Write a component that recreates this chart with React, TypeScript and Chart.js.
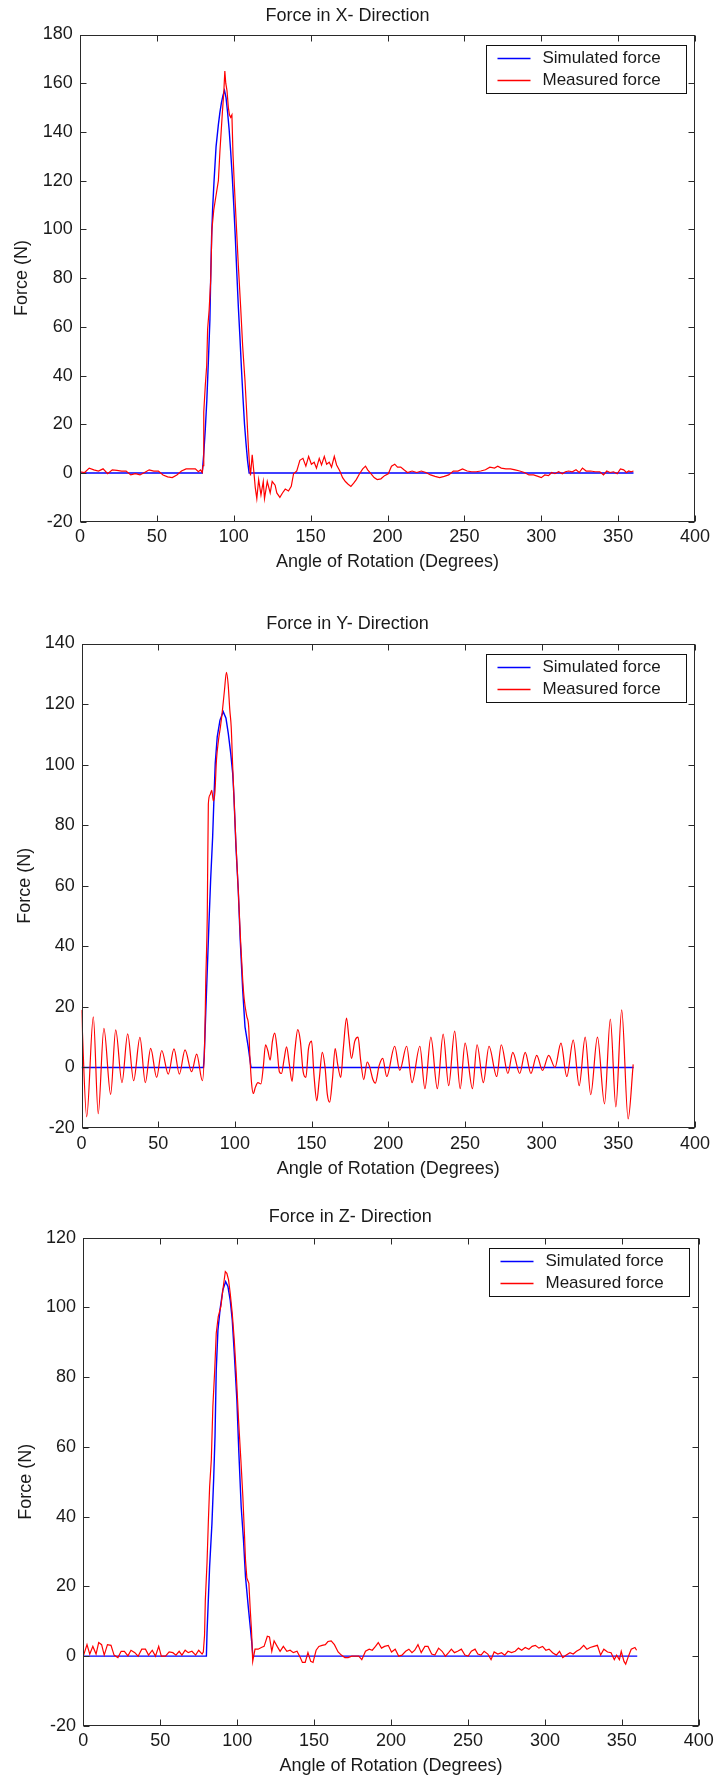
import React, { useEffect, useRef } from 'react';
import { Chart, registerables } from 'chart.js';

Chart.register(...registerables);

const FONT = "'Liberation Sans', Arial, Helvetica, sans-serif";
const TEXT = '#1a1a1a';
const FRAME = '#2a2a2a';
const PAGE_W = 718;

// ---------- data (angle in degrees, force in N) ----------
const legendLabels = ['Simulated force', 'Measured force'];
const xAxisTitle = 'Angle of Rotation (Degrees)';
const yAxisTitle = 'Force (N)';

const simulatedX: [number, number][] = [
  [0, 0], [79.5, 0], [80.5, 8], [81.5, 18], [82.5, 30], [83.5, 46], [84.5, 63], [85, 80], [85.6, 97],
  [86.3, 109], [87.2, 120], [88.5, 134], [90, 143], [91, 148], [92, 152], [93, 155], [94, 157], [95, 154],
  [96, 148], [97, 141], [98, 132], [99, 122], [100, 110], [101, 97], [102, 82], [103, 68], [104, 56],
  [105, 43], [106, 31], [107, 20], [108, 12], [109, 5], [110, 0], [360, 0],
];

const measuredX: [number, number][] = [
  [0, 0.5], [3, 0.2], [6, 2], [9, 1.3], [12, 0.8], [15, 1.7], [18, -0.3], [21, 1.3], [24, 1.1], [27, 0.8],
  [30, 0.8], [33, -0.8], [36, -0.3], [39, -0.8], [42, 0.2], [45, 1.3], [48, 0.8], [51, 0.8], [54, -0.8],
  [57, -1.6], [60, -1.9], [63, -0.8], [66, 0.8], [69, 1.7], [72, 1.7], [75, 1.7], [77, 0.5], [78.4, 1.3],
  [79.5, 0.2], [80, 3], [80.5, 25], [81.5, 36], [82.4, 44], [83, 59], [84, 67], [85, 79], [85.8, 100],
  [87, 108], [88.5, 114], [90, 120], [91, 132], [91.8, 140], [92.6, 148], [93.5, 156], [94.2, 165],
  [94.8, 160], [95.6, 157], [96.5, 150], [97.2, 147], [98, 146], [98.8, 147], [99.5, 131], [100.4, 118],
  [101.5, 104], [103, 85], [104.5, 68], [105.8, 52], [107.3, 38], [108.4, 25], [109.5, 11], [110.3, 3],
  [110.9, -1], [112, 7.5], [113, 1], [114, -6], [115, -10.5], [116.2, -2.7], [117.7, -9], [119.2, -3.5],
  [120, -10.5], [121.8, -3.5], [123.7, -8.2], [125, -3.5], [126.9, -5], [128, -8.2], [130, -10],
  [131.7, -8.2], [133.5, -6.6], [135.6, -7.4], [137.4, -5.5], [138.9, -0.3], [141, 0.8], [143, 5.2],
  [145, 6], [146.9, 2.8], [148.7, 6.8], [150.5, 3.6], [152.3, 4.4], [153.8, 2], [155.6, 6], [157.1, 3.3],
  [158.9, 6.8], [160.4, 3.6], [162.1, 4.4], [163.6, 2.4], [165.4, 6.8], [166.9, 3.3], [169, 0.8],
  [170.8, -1.9], [172.6, -3.5], [174.4, -4.6], [176.2, -5.5], [178, -4.2], [179.7, -2.7], [181.8, -0.3],
  [183.9, 1.7], [185.7, 2.8], [187.1, 1.3], [189.2, -0.3], [191.3, -1.9], [193.3, -2.7], [195.7, -2.4],
  [198.1, -1.1], [200.5, -0.3], [202.6, 2.8], [204.7, 3.6], [206.5, 2.4], [208.6, 2.4], [210.7, 1.3],
  [213, 0.2], [216, 0.8], [219, 0.2], [222, 0.8], [225, 0.2], [228, -0.8], [230.9, -1.4], [233.9, -1.9],
  [236.9, -1.4], [239.8, -0.8], [242.8, 0.8], [245.8, 0.8], [248.8, 1.7], [251.8, 0.8], [254.7, 0.5],
  [257.7, 0.5], [260.7, 0.8], [263.7, 1.3], [266.6, 2.4], [269.6, 2], [271.7, 2.8], [274, 2], [277, 1.7],
  [280, 1.7], [283, 1.3], [286, 0.8], [289, 0.2], [292, -0.8], [295, -0.8], [297.9, -1.4], [300, -1.9],
  [302.3, -0.8], [304.7, -1.1], [306.8, 0.2], [308.9, -0.3], [311.3, 0.5], [313.7, -0.3], [315.7, 0.5],
  [317.8, 0.8], [320.2, 0.5], [322.6, 1.3], [324.7, 0.2], [326.8, 2], [329.2, 0.8], [332.1, 0.8],
  [335.1, 0.5], [338.1, 0.5], [340.5, -0.8], [342.6, 0.8], [344.7, 0.2], [347, 0.5], [349.4, -0.3],
  [351.5, 1.7], [353.6, 1.3], [355.4, 0.2], [356.9, 0.8], [358.4, 0.5], [360, 0.8],
];

const simulatedY: [number, number][] = [
  [0, 0], [79.5, 0], [80, 3.5], [81, 17.9], [82, 32], [83.1, 47.6], [84.2, 62], [85.5, 76], [86.4, 89.4],
  [87.2, 100.4], [88.5, 109.2], [90.3, 114.7], [92.4, 117.5], [94.2, 115.3], [95.7, 110.3], [97.3, 103.7],
  [98.6, 97], [99.4, 89.4], [100.7, 72.9], [102.2, 58.6], [103.5, 42], [105.1, 25.6], [106.6, 13.4],
  [108.7, 6.8], [110.3, 0.8], [110.6, 0], [360, 0],
];

const measuredY: [number, number][] = [
  [0, 19], [3.4, -16.3], [7.7, 16.7], [10.9, -15.3], [14.6, 12.9], [19, -8.9], [22.3, 12.4], [26.4, -5],
  [30.1, 11.1], [34, -4.4], [38.1, 9.9], [41.6, -5], [45.1, 6.3], [49, -3.3], [52.3, 5.6], [56.6, -2.2],
  [60.3, 6.1], [63.8, -2.2], [67.5, 5.8], [71.8, -1.4], [75.1, 4.4], [78.8, -4.4], [80.4, 10], [81, 28],
  [82, 50], [82.7, 87], [83.8, 90], [84.9, 91.5], [86, 88], [87, 91], [88, 101.5], [89.3, 108],
  [90.6, 112.5], [91.9, 118], [93.2, 124.5], [94.5, 130.5], [95.6, 126.6], [96.7, 118], [97.6, 112.5],
  [98.5, 100.4], [99.4, 89.4], [100.7, 74], [102.2, 58.6], [103.7, 42], [105.1, 29], [106.1, 22.5],
  [107.7, 17], [109, 13.4], [109.8, 3.5], [110.9, -5.3], [112, -8.6], [113.4, -6.5], [115, -5],
  [117, -5.4], [118.5, 0], [120, 7.5], [121.5, 5.5], [123, 2.4], [124.5, 8.7], [126, 11.3], [127.5, 6.2],
  [129, -1.4], [130.4, -2], [132, 2.4], [133.7, 6.8], [135.5, 1.1], [137.3, -4.6], [139, 5], [141, 12.5],
  [142.7, 8.7], [144.5, -1.4], [146.3, -3.3], [148, 6.2], [150, 8.7], [151.6, -2.7], [153.4, -11],
  [155, -4], [157, 5], [158.8, 0], [160.3, -9], [161.8, -11.5], [163.6, -4], [165.4, 6.2], [167, 1.1],
  [169, -3.3], [170.7, 6.2], [172.8, 16.3], [174.3, 10], [176, 3], [178.2, 8.7], [180.3, 10], [182, 2.4],
  [184, -4], [186.3, 1.8], [188, 0], [190, -4], [191.6, -5.2], [194, 0.5], [196.4, 3], [199, -3],
  [204.2, 7], [207.5, -1], [212, 7], [215.5, -5], [220.6, 7], [223.9, -7], [227.8, 10], [232, -7],
  [235.8, 11], [239.4, -6], [243.3, 12], [246.9, -7], [250.1, 8], [254.9, -7], [257.9, 7.5], [262, -5],
  [265.7, 7], [270.7, -3], [273.7, 7.5], [278, -2], [281.2, 5], [285.7, -2], [289.3, 5], [293, -2],
  [296.8, 4], [300.6, -1], [304.6, 4], [308.7, 0], [312.6, 8], [316.4, -3], [320.6, 9], [324.5, -6],
  [328.4, 10], [332, -9], [336.4, 10], [341, -12], [344.8, 16], [348.4, -13], [352.2, 19], [356.4, -17],
  [359.7, 1],
];

const simulatedZ: [number, number][] = [
  [0, 0], [80, 0], [80.4, 6.6], [82.1, 25.7], [83.6, 38], [84.7, 50.5], [85.6, 63], [86.4, 82],
  [87.5, 93.5], [89, 99.8], [90.7, 105], [92.5, 107.4], [94, 106], [95.5, 102], [96.8, 96.4], [98.1, 87],
  [99.8, 73.5], [101.1, 58.3], [102.6, 42.9], [104.1, 33.3], [105.4, 22.8], [107.2, 14.2], [108.7, 7.5],
  [109.5, 3.9], [110.2, 0], [360, 0],
];

const measuredZ: [number, number][] = [
  [0, 0], [2.4, 3.3], [4.2, 0.6], [6.2, 2.8], [8.3, 0.6], [10, 3.9], [11.9, 3.3], [13.6, 0.3], [15.7, 3.3],
  [18, 3.1], [20, 0.3], [22.5, -0.4], [24.6, 1.4], [26.7, 1.4], [29, 0.1], [31, 1.7], [33.5, 1], [35.6, 0],
  [38, 2], [40.4, 2], [42.4, 0.3], [44.8, 1.7], [46.9, 0], [49, 2.8], [50.7, 0], [53.4, 0], [55.8, 1.2],
  [58.2, 1], [60.2, 0.3], [62.3, 1.4], [64.1, 0.3], [66.2, 1.7], [68.2, 1], [70.6, 1.4], [73, 0.3],
  [75, 1.7], [77.2, 0.6], [78, 1.2], [78.8, 6], [79.3, 16], [80.4, 26.7], [81.3, 39], [82.1, 48.6],
  [83.2, 56.3], [84.2, 71.5], [85.4, 82], [86.4, 92.6], [87.7, 97.4], [89.4, 100.2], [90.7, 105],
  [92.3, 110.3], [93.3, 109.8], [94.4, 107.9], [95.5, 104], [96.8, 98.3], [98.1, 90.7], [99.4, 81.1],
  [100.9, 67.7], [102.4, 56.3], [103.7, 45.7], [104.8, 34.3], [105.4, 27.6], [106.3, 22.4], [107.6, 20.9],
  [108.5, 13.3], [109.3, 7.5], [110.1, -1.5], [111.6, 2], [113.6, 2], [115.7, 2.5], [117.5, 2.8],
  [119.6, 5.7], [121, 5.5], [122.5, 1.4], [124, 4.4], [126, 2.8], [127.9, 1.4], [130, 2.8], [132.3, 1.4],
  [134.4, 1.7], [136.5, 1], [138.9, 1.4], [141, -0.4], [142.4, -1.8], [144.2, -1.8], [146, 1],
  [147.8, -1.5], [149.3, -1.8], [151.3, 1.7], [153.1, 2.8], [155.2, 3.1], [157.3, 3.3], [159, 4.2],
  [161.1, 4.4], [163.2, 3.3], [165.6, 1.2], [167.7, 0.3], [170, -0.4], [172.1, -0.4], [174.5, 0],
  [176.9, 0], [179, 0], [181, -1], [183.4, 1.4], [185.8, 2], [187.8, 1.7], [189.9, 2.8], [191.7, 3.9],
  [193.8, 2.3], [195.8, 2.8], [198.2, 3.1], [200.3, 1.2], [202.7, 2], [205, 0], [207.1, 0.3], [209.5, 1.4],
  [211.6, 2], [213.6, 1], [215.4, 1.7], [217.5, 3.3], [219.6, 1], [222, 2.8], [224, 2.8], [226.4, 0.6],
  [228.5, 0.3], [230.9, 2.3], [233.2, 1.4], [235.3, 0], [237.4, 1], [239.2, 2], [241.2, 1], [243.3, 1.4],
  [245.7, 2], [248, 0.3], [250.1, 0], [252.2, 1.4], [254.6, 2], [256.4, 0.6], [258.5, 0.3], [260.5, 1.4],
  [262.9, 0.6], [265, -1], [267, 1.2], [269.4, 0.6], [271.8, 1], [273.9, 0.3], [276, 1.4], [278.3, 1],
  [280.7, 1.4], [282.8, 2.3], [284.9, 1.7], [287.2, 2.5], [289.6, 2], [291.7, 2.8], [293.8, 3.1],
  [296.1, 2.3], [298.5, 2.8], [300.6, 1.7], [302.7, 2], [305, 1], [307.4, 0.3], [309.5, 1.4],
  [311.6, -0.4], [313.9, 0.3], [316.3, 1], [318.4, 0.6], [320.5, 1.4], [322.8, 2], [325.2, 3.1],
  [327.3, 2], [329.4, 2.5], [331.8, 2.8], [334.1, 3.1], [336.2, 0.3], [338.3, 2], [340.7, 1.2], [343, 1],
  [345.1, -1], [346.6, 0.3], [348.4, -1], [349.6, 1.4], [351.4, -1.5], [352.5, -2.3], [354.3, 0],
  [356.1, 2], [358.5, 2.5], [359.6, 1.7],
];

// ---------- layout (not data) ----------
type Panel = {
  title: string;
  yMin: number;
  yMax: number;
  simulated: [number, number][];
  measured: [number, number][];
  smooth: boolean;
  top: number;
  height: number;
  area: { left: number; top: number; right: number; bottom: number };
  titleY: number;
  yTitleX: number;
  xTitleY: number;
  xTickOff: number;
  yTickGap: number;
};

const panels: Panel[] = [
  {
    title: 'Force in X- Direction', yMin: -20, yMax: 180, simulated: simulatedX, measured: measuredX, smooth: false,
    top: 0, height: 585, area: { left: 80, top: 34.5, right: 695, bottom: 521.7 },
    titleY: 16, yTitleX: 22, xTitleY: 562.5, xTickOff: 15.8, yTickGap: 7.3,
  },
  {
    title: 'Force in Y- Direction', yMin: -20, yMax: 140, simulated: simulatedY, measured: measuredY, smooth: true,
    top: 590, height: 590, area: { left: 81.5, top: 53.5, right: 695, bottom: 538 },
    titleY: 33.8, yTitleX: 25, xTitleY: 579, xTickOff: 16, yTickGap: 6.7,
  },
  {
    title: 'Force in Z- Direction', yMin: -20, yMax: 120, simulated: simulatedZ, measured: measuredZ, smooth: false,
    top: 1190, height: 588, area: { left: 83.3, top: 47.7, right: 700.5, bottom: 535.9 },
    titleY: 27.4, yTitleX: 26, xTitleY: 575.7, xTickOff: 15, yTickGap: 7.3,
  },
];

const FS = 18;
const LH = FS * 1.2;

const matlabFrame = {
  id: 'matlabFrame',
  afterDatasetsDraw(chart: any) {
    const { ctx, chartArea: a, scales } = chart;
    const L = Math.round(a.left) + 0.5;
    const R = Math.round(a.right) - 0.5;
    const T = Math.round(a.top) + 0.5;
    const B = Math.round(a.bottom) - 0.5;
    const TL = 6;
    ctx.save();
    ctx.strokeStyle = FRAME;
    ctx.lineWidth = 1;
    ctx.strokeRect(L, T, R - L, B - T);
    ctx.beginPath();
    for (const t of scales.x.ticks) {
      const px = Math.round(scales.x.getPixelForValue(t.value)) + 0.5;
      ctx.moveTo(px, B); ctx.lineTo(px, B - TL);
      ctx.moveTo(px, T); ctx.lineTo(px, T + TL);
    }
    for (const t of scales.y.ticks) {
      const py = Math.round(scales.y.getPixelForValue(t.value)) + 0.5;
      ctx.moveTo(L, py); ctx.lineTo(L + TL, py);
      ctx.moveTo(R, py); ctx.lineTo(R - TL, py);
    }
    ctx.stroke();

    // legend box (inside axes, upper right, MATLAB style)
    const boxW = 200;
    const boxH = 48;
    const bx = Math.round(a.right - 9.5 - boxW) + 0.5;
    const by = Math.round(a.top + 10.5) + 0.5;
    ctx.fillStyle = '#ffffff';
    ctx.fillRect(bx, by, boxW, boxH);
    ctx.strokeStyle = '#111111';
    ctx.strokeRect(bx, by, boxW, boxH);
    ctx.font = `17px ${FONT}`;
    ctx.textBaseline = 'middle';
    ctx.textAlign = 'left';
    const rows = [12.6, 34.5];
    chart.data.datasets.forEach((ds: any, i: number) => {
      const y = by + rows[i];
      ctx.strokeStyle = ds.borderColor;
      ctx.lineWidth = 1.4;
      ctx.beginPath();
      ctx.moveTo(bx + 11, Math.round(y) + 0.5);
      ctx.lineTo(bx + 44, Math.round(y) + 0.5);
      ctx.stroke();
      ctx.fillStyle = TEXT;
      ctx.fillText(ds.label, bx + 56, y);
    });
    ctx.restore();
  },
};

function ForceChart({ panel }: { panel: Panel }) {
  const ref = useRef<HTMLCanvasElement>(null);
  useEffect(() => {
    const p = panel;
    const font = { family: FONT, size: FS, weight: 'normal' as const };
    const chart = new Chart(ref.current as HTMLCanvasElement, {
      type: 'line',
      data: {
        datasets: [
          {
            label: legendLabels[0],
            data: p.simulated.map(([x, y]) => ({ x, y })),
            borderColor: '#0000ff',
            backgroundColor: '#0000ff',
            borderWidth: 1.4,
            pointRadius: 0,
            tension: 0,
            order: 1,
          },
          {
            label: legendLabels[1],
            data: p.measured.map(([x, y]) => ({ x, y })),
            borderColor: '#ff0000',
            backgroundColor: '#ff0000',
            borderWidth: 1.2,
            pointRadius: 0,
            tension: p.smooth ? 0.4 : 0,
            cubicInterpolationMode: p.smooth ? 'monotone' : 'default',
            order: 0,
          },
        ],
      } as any,
      options: {
        animation: false,
        responsive: false,
        maintainAspectRatio: false,
        devicePixelRatio: 1,
        events: [],
        layout: { padding: { left: 0, top: 0, right: PAGE_W - p.area.right, bottom: 0 } },
        plugins: {
          legend: { display: false },
          tooltip: { enabled: false },
          title: {
            display: true,
            text: p.title,
            color: TEXT,
            font,
            padding: { top: p.titleY - LH / 2, bottom: p.area.top - p.titleY - LH / 2 },
          },
        },
        scales: {
          x: {
            type: 'linear',
            min: 0,
            max: 400,
            grid: { display: false, drawTicks: false },
            border: { display: false },
            ticks: {
              stepSize: 50,
              color: TEXT,
              font,
              padding: p.xTickOff - LH / 2,
              maxRotation: 0,
              autoSkip: false,
            },
            title: {
              display: true,
              text: xAxisTitle,
              color: TEXT,
              font,
              padding: { top: 0, bottom: p.height - p.xTitleY - LH / 2 },
            },
            afterFit: (s: any) => {
              s.height = p.height - p.area.bottom;
            },
          },
          y: {
            type: 'linear',
            min: p.yMin,
            max: p.yMax,
            grid: { display: false, drawTicks: false },
            border: { display: false },
            ticks: { stepSize: 20, color: TEXT, font, padding: p.yTickGap },
            title: {
              display: true,
              text: yAxisTitle,
              color: TEXT,
              font,
              padding: { top: p.yTitleX - LH / 2, bottom: 0 },
            },
            afterFit: (s: any) => {
              s.width = p.area.left;
            },
          },
        },
      } as any,
      plugins: [matlabFrame],
    });
    return () => chart.destroy();
  }, [panel]);
  return (
    <canvas
      ref={ref}
      width={PAGE_W}
      height={panel.height}
      style={{ position: 'absolute', left: 0, top: panel.top, display: 'block' }}
    />
  );
}

export default function App() {
  return (
    <div style={{ position: 'absolute', left: 0, top: 0, width: PAGE_W, height: 1778, background: '#ffffff', overflow: 'hidden' }}>
      {panels.map((p) => (
        <ForceChart key={p.title} panel={p} />
      ))}
    </div>
  );
}
